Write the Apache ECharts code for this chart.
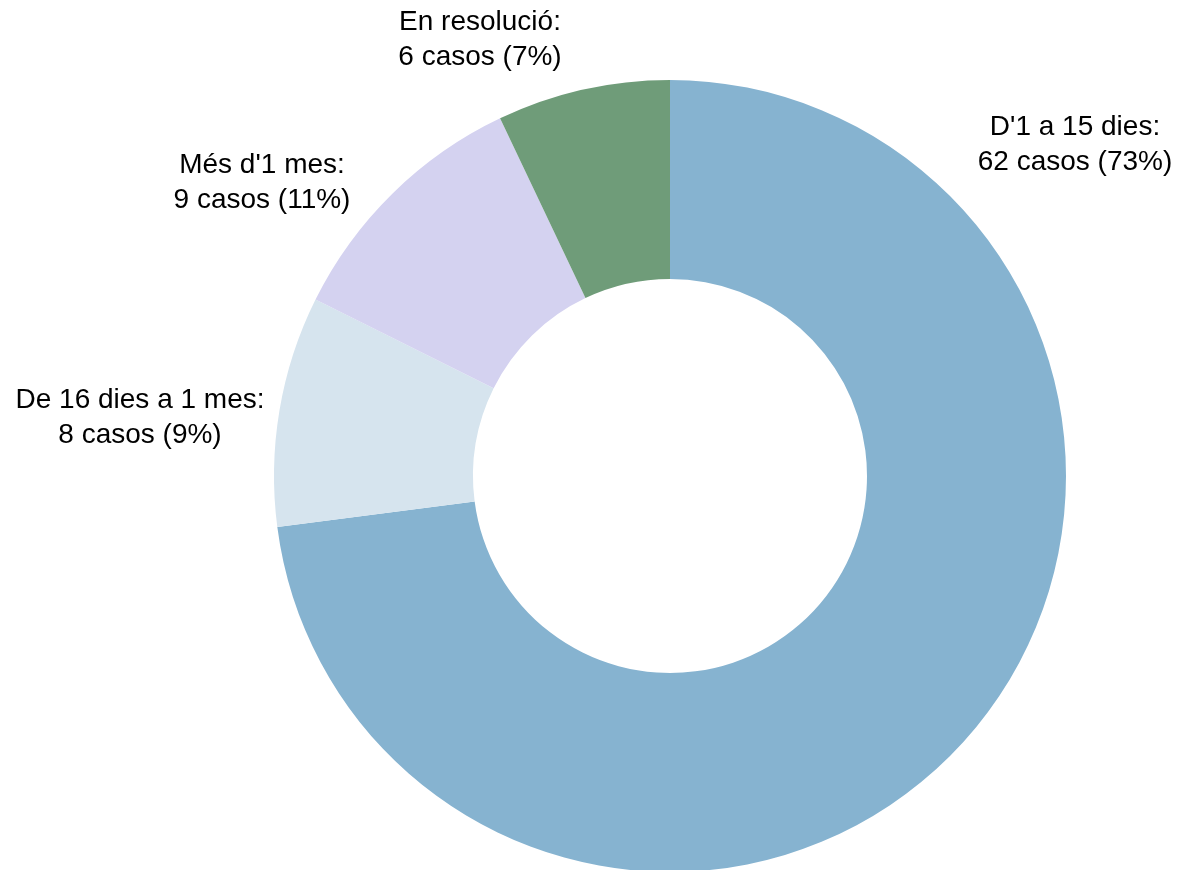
<!DOCTYPE html>
<html>
<head>
<meta charset="utf-8">
<script src="https://cdn.jsdelivr.net/npm/echarts@6/dist/echarts.min.js"></script>
<style>
  html, body { margin: 0; padding: 0; background: #fff; }
  #chart { width: 1181px; height: 870px; }
</style>
</head>
<body>
<div id="chart"></div>
<script>
const categories = ["D'1 a 15 dies", 'De 16 dies a 1 mes', "Més d'1 mes", 'En resolució'];
const casos = [62, 8, 9, 6];
const percents = [73, 9, 11, 7];
const colors = ['#86b3d0', '#d6e4ee', '#d4d2f0', '#6f9c79'];

// posició de les etiquetes (centre del bloc de text)
const labelPos = [
  [1075, 145],
  [140, 418],
  [262, 183],
  [480, 40]
];

const chart = echarts.init(document.getElementById('chart'));
chart.setOption({
  animation: false,
  series: [{
    type: 'pie',
    center: [670, 476],
    radius: [197, 396],
    startAngle: 90,
    clockwise: true,
    data: categories.map((name, i) => ({
      name: name,
      value: casos[i],
      itemStyle: { color: colors[i] }
    })),
    label: {
      show: true,
      position: 'outside',
      formatter: (p) => p.name + ':\n' + casos[p.dataIndex] + ' casos (' + percents[p.dataIndex] + '%)',
      fontFamily: 'Liberation Sans, Arial, sans-serif',
      fontSize: 28,
      lineHeight: 35,
      color: '#000',
      align: 'center',
      overflow: 'none',
      width: 300
    },
    labelLine: { show: false },
    labelLayout: (params) => ({
      x: labelPos[params.dataIndex][0],
      y: labelPos[params.dataIndex][1],
      align: 'center',
      verticalAlign: 'middle'
    }),
    emphasis: { disabled: true }
  }]
});
</script>
</body>
</html>
